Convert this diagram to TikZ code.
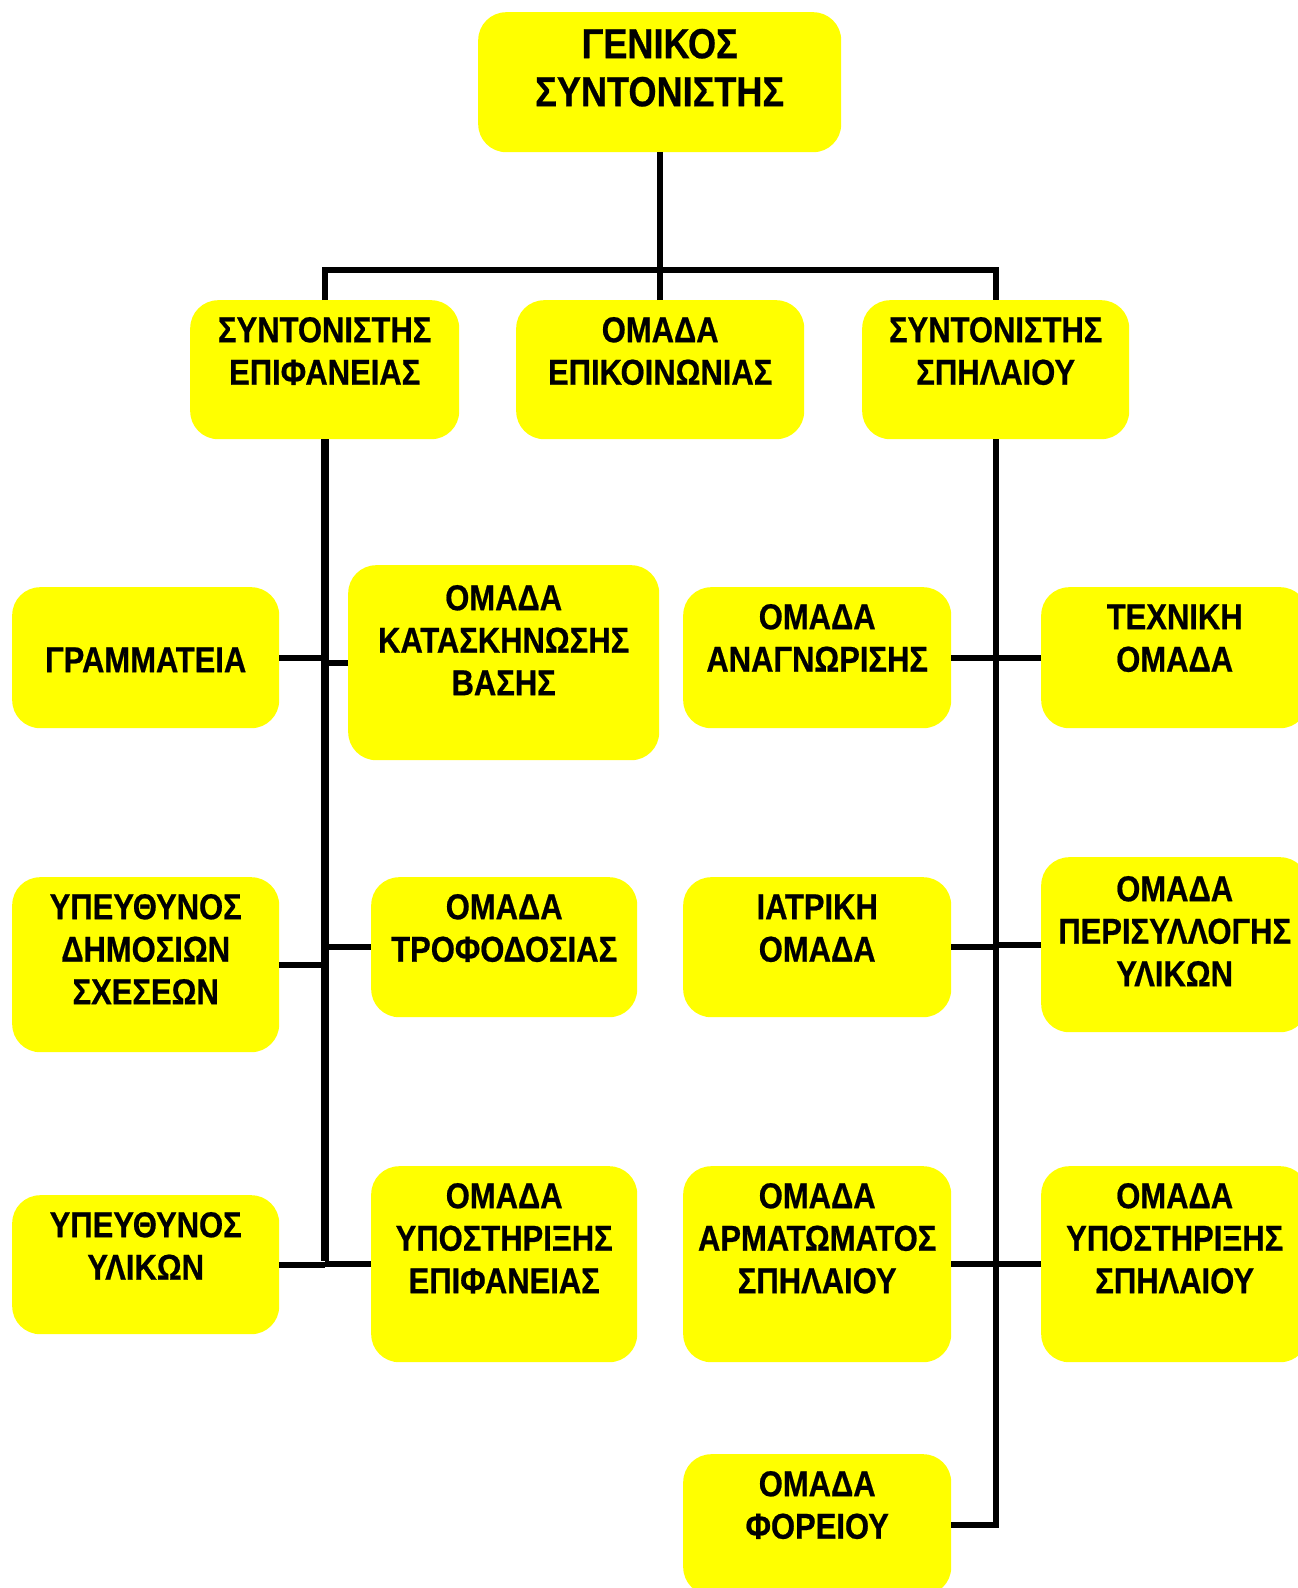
\documentclass[tikz,border=0pt]{standalone}
\usepackage{fontspec}
\setmainfont{Liberation Sans}[FakeStretch=0.86, BoldFeatures={FakeBold=0.6}]
\definecolor{boxyellow}{HTML}{FFFF00}
\newcommand{\unitfont}{\bfseries\fontsize{36}{42.5}\selectfont}
\newcommand{\headfont}{\bfseries\fontsize{42}{48}\selectfont}
\tikzset{
  unit/.style={fill=boxyellow, rounded corners=28pt, inner sep=0pt, align=center,
    anchor=north west, text height=42pt, font=\unitfont},
  link/.style={line width=6pt},
}
\begin{document}
\begin{tikzpicture}[x=1pt,y=-1pt]
\clip (0,0) rectangle (1298,1588);
\node[unit, text width=363pt, text height=46pt, text depth=94pt, font=\headfont] (gen) at (478,12) {ΓΕΝΙΚΟΣ\\ΣΥΝΤΟΝΙΣΤΗΣ};
\node[unit, text width=269pt, text depth=97pt] (surf) at (190,300) {ΣΥΝΤΟΝΙΣΤΗΣ\\ΕΠΙΦΑΝΕΙΑΣ};
\node[unit, text width=288pt, text depth=97pt] (comm) at (516,300) {ΟΜΑΔΑ\\ΕΠΙΚΟΙΝΩΝΙΑΣ};
\node[unit, text width=267pt, text depth=97pt] (cave) at (862,300) {ΣΥΝΤΟΝΙΣΤΗΣ\\ΣΠΗΛΑΙΟΥ};
\coordinate (bus) at (660,270);

\node[unit, text width=267pt, text height=85pt, text depth=56pt] (secr) at (12,587) {ΓΡΑΜΜΑΤΕΙΑ};
\node[unit, text width=267pt, text depth=133pt] (pubrel) at (12,877) {ΥΠΕΥΘΥΝΟΣ\\ΔΗΜΟΣΙΩΝ\\ΣΧΕΣΕΩΝ};
\node[unit, text width=267pt, text depth=97pt] (matl) at (12,1195) {ΥΠΕΥΘΥΝΟΣ\\ΥΛΙΚΩΝ};
\node[unit, text width=311pt, text height=45pt, text depth=150pt] (camp) at (348,565) {ΟΜΑΔΑ\\ΚΑΤΑΣΚΗΝΩΣΗΣ\\ΒΑΣΗΣ};
\node[unit, text width=266pt, text depth=98pt] (food) at (371,877) {ΟΜΑΔΑ\\ΤΡΟΦΟΔΟΣΙΑΣ};
\node[unit, text width=266pt, text depth=154pt] (suppsurf) at (371,1166) {ΟΜΑΔΑ\\ΥΠΟΣΤΗΡΙΞΗΣ\\ΕΠΙΦΑΝΕΙΑΣ};

\node[unit, text width=268pt, text depth=99pt] (recon) at (683,587) {ΟΜΑΔΑ\\ΑΝΑΓΝΩΡΙΣΗΣ};
\node[unit, text width=268pt, text depth=98pt] (medic) at (683,877) {ΙΑΤΡΙΚΗ\\ΟΜΑΔΑ};
\node[unit, text width=268pt, text depth=154pt] (rig) at (683,1166) {ΟΜΑΔΑ\\ΑΡΜΑΤΩΜΑΤΟΣ\\ΣΠΗΛΑΙΟΥ};
\node[unit, text width=268pt, text depth=99pt] (strch) at (683,1454) {ΟΜΑΔΑ\\ΦΟΡΕΙΟΥ};
\node[unit, text width=267pt, text depth=99pt] (tech) at (1041,587) {ΤΕΧΝΙΚΗ\\ΟΜΑΔΑ};
\node[unit, text width=267pt, text height=44pt, text depth=131pt] (collect) at (1041,857) {ΟΜΑΔΑ\\ΠΕΡΙΣΥΛΛΟΓΗΣ\\ΥΛΙΚΩΝ};
\node[unit, text width=267pt, text depth=154pt] (suppcave) at (1041,1166) {ΟΜΑΔΑ\\ΥΠΟΣΤΗΡΙΞΗΣ\\ΣΠΗΛΑΙΟΥ};

\draw[link] (gen.south) -- (gen.south |- bus);
\draw[link] (surf.north) |- (bus) -| (cave.north);
\draw[link] (comm.north) -- (comm.north |- bus);

\draw[link, line width=8pt] (surf.south) -- ([yshift=3pt]surf.south |- suppsurf.west);
\foreach \n in {secr,pubrel,matl} \draw[link] (\n.east) -- (\n.east -| surf.south);
\foreach \n in {camp,food,suppsurf} \draw[link] (\n.west) -- (\n.west -| surf.south);

\draw[link] (cave.south) |- (strch.east);
\foreach \n in {recon,medic,rig} \draw[link] (\n.east) -- (\n.east -| cave.south);
\foreach \n in {tech,collect,suppcave} \draw[link] (\n.west) -- (\n.west -| cave.south);
\end{tikzpicture}
\end{document}
